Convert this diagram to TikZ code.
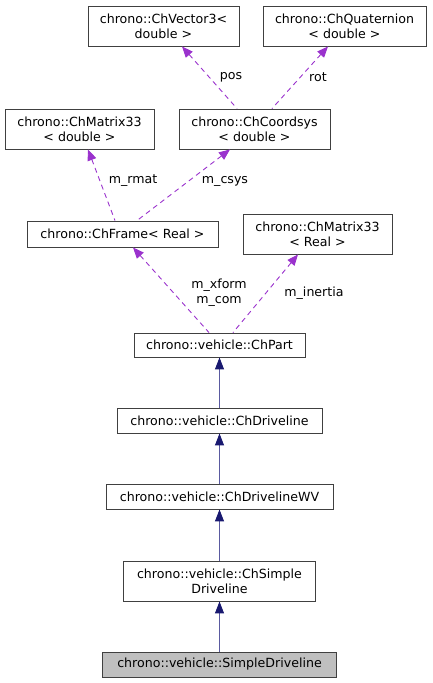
\documentclass[tikz,border=0pt]{standalone}
\usepackage{fontspec}
\setmainfont{DejaVu Sans}
\usetikzlibrary{arrows.meta,calc}
\definecolor{edgepurple}{HTML}{9A32CD}
\definecolor{navyedge}{HTML}{191970}
\definecolor{navyline}{HTML}{5A5AA0}
\definecolor{boxline}{HTML}{404040}
\definecolor{boxfill}{HTML}{BFBFBF}
\begin{document}
\begin{tikzpicture}[x=1pt,y=-1pt,
  box/.style={draw=boxline, line width=0.9pt, fill=white, inner sep=0pt, align=center,
    font=\fontsize{12.6}{15}\selectfont},
  lbl/.style={inner sep=0pt, align=center, font=\fontsize{12.6}{15}\selectfont},
  member/.style={draw=edgepurple, line width=0.9pt, dash pattern=on 5pt off 4pt,
    {Triangle[length=11pt,width=9pt,fill=edgepurple,color=edgepurple]}-},
  inherit/.style={draw=navyline, line width=1pt,
    {Triangle[length=12pt,width=9pt,fill=navyedge,color=navyedge]}-}]
\useasboundingbox (0,0) rectangle (432,683);
\node[box, minimum width=151pt, minimum height=40pt] (v3) at (163.5,26) {chrono::ChVector3<\\double >};
\node[box, minimum width=163pt, minimum height=40pt] (quat) at (344.5,26) {chrono::ChQuaternion\\< double >};
\node[box, minimum width=149pt, minimum height=40pt] (m33d) at (79.5,129) {chrono::ChMatrix33\\< double >};
\node[box, minimum width=151pt, minimum height=40pt] (coord) at (254.5,129) {chrono::ChCoordsys\\< double >};
\node[box, minimum width=191pt, minimum height=26pt] (frame) at (122.5,234) {chrono::ChFrame< Real >};
\node[box, minimum width=149pt, minimum height=40pt] (m33r) at (317.5,234) {chrono::ChMatrix33\\< Real >};
\node[box, minimum width=171pt, minimum height=24pt] (part) at (219.5,345) {chrono::vehicle::ChPart};
\node[box, minimum width=205pt, minimum height=25pt] (drv) at (219.5,420.5) {chrono::vehicle::ChDriveline};
\node[box, minimum width=227pt, minimum height=25pt] (wv) at (219.5,496.5) {chrono::vehicle::ChDrivelineWV};
\node[box, minimum width=192pt, minimum height=40pt] (simple) at (219.5,581) {chrono::vehicle::ChSimple\\Driveline};
\node[box, fill=boxfill, minimum width=234pt, minimum height=25pt] (sd) at (219.5,664.5) {chrono::vehicle::SimpleDriveline};

\draw[member] ([xshift=18.5pt]v3.south) -- ([xshift=-17.5pt]coord.north);
\draw[member] ([xshift=-16.5pt]quat.south) -- ([xshift=17.5pt]coord.north);
\draw[member] ([xshift=8.5pt]m33d.south) -- ([xshift=-7.5pt]frame.north);
\draw[member] ([xshift=-24.5pt]coord.south) -- ([xshift=14.5pt]frame.north);
\draw[member] ([xshift=10.5pt]frame.south) -- ([xshift=-10.5pt]part.north);
\draw[member] ([xshift=-19.5pt]m33r.south) -- ([xshift=13.5pt]part.north);

\node[lbl] (lpos) at (231,77) {pos};
\node[lbl] (lrot) at (318,77) {rot};
\node[lbl] (lrmat) at (133,181) {m\_rmat};
\node[lbl] (lcsys) at (225,181) {m\_csys};
\node[lbl] (lxform) at (219,292.5) {m\_xform\\m\_com};
\node[lbl] (linertia) at (314,293) {m\_inertia};

\draw[inherit] (part.south) -- (drv.north);
\draw[inherit] (drv.south) -- (wv.north);
\draw[inherit] (wv.south) -- (simple.north);
\draw[inherit] (simple.south) -- (sd.north);
\end{tikzpicture}
\end{document}
